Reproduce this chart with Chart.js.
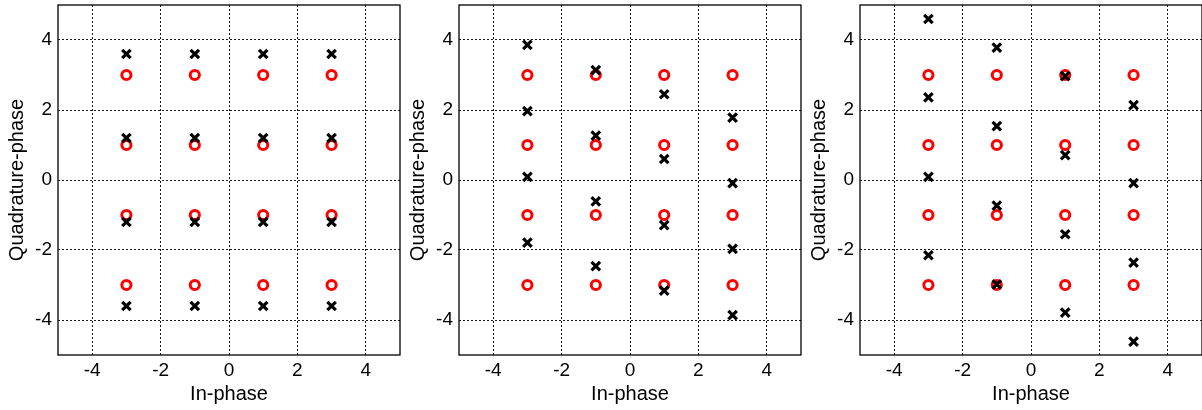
<!DOCTYPE html>
<html>
<head>
<meta charset="utf-8">
<script src="https://cdn.jsdelivr.net/npm/chart.js@4/dist/chart.umd.min.js"></script>
<style>
html,body{margin:0;padding:0;background:#fff;overflow:hidden;width:1202px;height:410px;position:relative}
canvas{position:absolute;top:0}
</style>
</head>
<body>
<canvas id="c0" width="404" height="410" style="left:0px"></canvas>
<canvas id="c1" width="404" height="410" style="left:401px"></canvas>
<canvas id="c2" width="404" height="410" style="left:802px"></canvas>
<script>
// ---- data ----
const LEVELS = [-3, -1, 1, 3];            // ideal I and Q levels (16-QAM)
const TICKS = [-4, -2, 0, 2, 4];          // tick labels on both axes
const AXIS_MIN = -5, AXIS_MAX = 5;
const X_TITLE = 'In-phase';
const Y_TITLE = 'Quadrature-phase';

// received Q values, one list per in-phase column (I = -3, -1, 1, 3)
const rxPanel1 = [
  [3.6, 1.2, -1.2, -3.6],
  [3.6, 1.2, -1.2, -3.6],
  [3.6, 1.2, -1.2, -3.6],
  [3.6, 1.2, -1.2, -3.6]
];
const rxPanel2 = [
  [3.86, 1.97, 0.09, -1.79],
  [3.14, 1.27, -0.61, -2.46],
  [2.45, 0.60, -1.29, -3.16],
  [1.78, -0.09, -1.97, -3.86]
];
const rxPanel3 = [
  [4.60, 2.36, 0.09, -2.15],
  [3.78, 1.54, -0.73, -2.98],
  [2.97, 0.71, -1.55, -3.79],
  [2.14, -0.09, -2.36, -4.62]
];
const PANELS = [rxPanel1, rxPanel2, rxPanel3];

// ---- build ----
const FONT = "'Liberation Sans', Arial, Helvetica, sans-serif";

function idealPoints() {
  const pts = [];
  LEVELS.forEach(i => LEVELS.forEach(q => pts.push({x: i, y: q})));
  return pts;
}
function rxPoints(cols) {
  const pts = [];
  cols.forEach((col, ci) => col.forEach(q => pts.push({x: LEVELS[ci], y: q})));
  return pts;
}

const boxPlugin = {
  id: 'box',
  beforeDatasetsDraw(chart) {
    const {ctx, chartArea: a} = chart;
    ctx.save();
    ctx.strokeStyle = '#000';
    ctx.lineWidth = 1.3;
    ctx.strokeRect(a.left, a.top, a.right - a.left, a.bottom - a.top);
    ctx.restore();
  }
};

function setTicks(scale) {
  scale.ticks = TICKS.map(v => ({value: v}));
}
function zeroPad(s) {
  s.paddingTop = 0; s.paddingBottom = 0; s.paddingLeft = 0; s.paddingRight = 0;
}

PANELS.forEach((cols, idx) => {
  new Chart(document.getElementById('c' + idx), {
    type: 'scatter',
    data: {
      datasets: [
        {
          label: 'received',
          data: rxPoints(cols),
          pointStyle: 'crossRot',
          pointRadius: 6,
          pointHoverRadius: 6,
          pointBorderWidth: 3.2,
          borderColor: '#000',
          backgroundColor: '#000',
          order: 1
        },
        {
          label: 'ideal',
          data: idealPoints(),
          pointStyle: 'circle',
          pointRadius: 4.6,
          pointHoverRadius: 4.6,
          pointBorderWidth: 3,
          borderColor: '#ff0000',
          backgroundColor: 'rgba(255,255,255,1)',
          order: 2
        }
      ]
    },
    options: {
      responsive: false,
      animation: false,
      devicePixelRatio: 1,
      layout: {autoPadding: false, padding: {top: 5, right: 4, left: 0, bottom: 0}},
      plugins: {legend: {display: false}, tooltip: {enabled: false}},
      scales: {
        x: {
          type: 'linear',
          min: AXIS_MIN, max: AXIS_MAX,
          afterBuildTicks: setTicks,
          afterFit(s) { s.height = 55; zeroPad(s); },
          grid: {color: 'rgba(0,0,0,0.9)', lineWidth: 1, drawTicks: false},
          border: {display: false, dash: [2, 2]},
          ticks: {color: '#000', padding: 4, font: {family: FONT, size: 19}},
          title: {display: true, text: X_TITLE, color: '#000',
                  font: {family: FONT, size: 20}, padding: {top: 0, bottom: 4}}
        },
        y: {
          type: 'linear',
          min: AXIS_MIN, max: AXIS_MAX,
          afterBuildTicks: setTicks,
          afterFit(s) { s.width = 58; zeroPad(s); },
          grid: {color: 'rgba(0,0,0,0.9)', lineWidth: 1, drawTicks: false},
          border: {display: false, dash: [2, 2]},
          ticks: {color: '#000', padding: 6, font: {family: FONT, size: 19}},
          title: {display: true, text: Y_TITLE, color: '#000',
                  font: {family: FONT, size: 20}, padding: {top: 5, bottom: 0}}
        }
      }
    },
    plugins: [boxPlugin]
  });
});
</script>
</body>
</html>
